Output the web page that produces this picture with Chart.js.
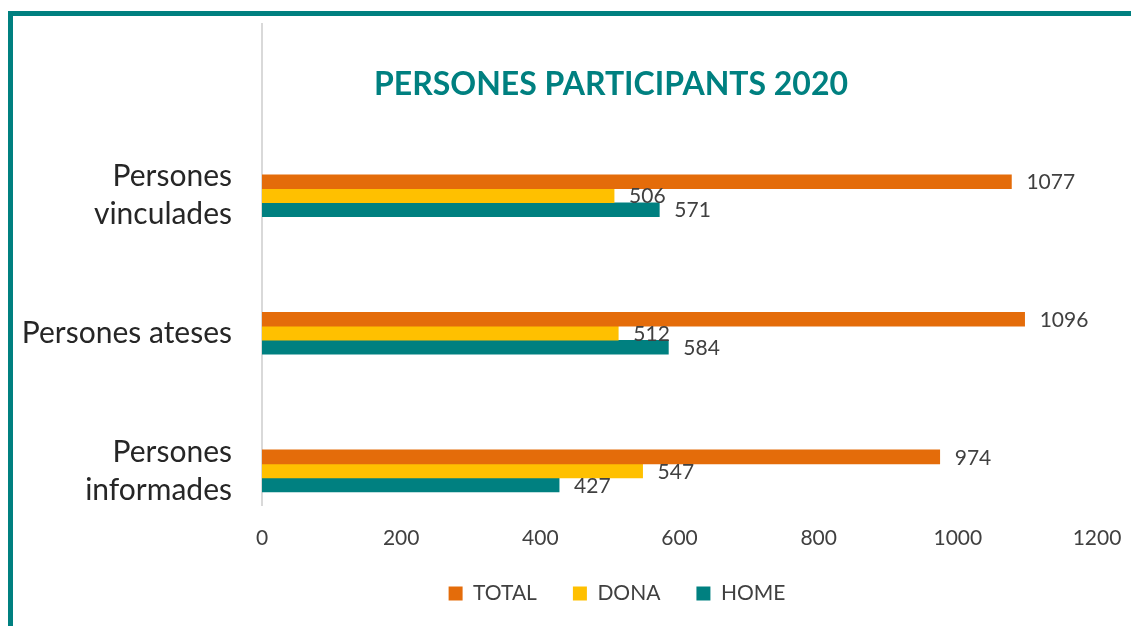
<!DOCTYPE html>
<html>
<head>
<meta charset="utf-8">
<script src="https://cdn.jsdelivr.net/npm/chart.js@4.4.1/dist/chart.umd.min.js"></script>
<style>
  html, body { margin: 0; padding: 0; background: #fff; }
  .frame {
    position: absolute; left: 8px; top: 11px; right: 0; bottom: 0;
    border-left: 5px solid #008080; border-top: 5px solid #008080;
  }
  .wrap { position: absolute; left: 13px; top: 16px; width: 1118px; height: 610px; }
</style>
</head>
<body>
<div class="frame"></div>
<div class="wrap"><canvas id="myChart"></canvas></div>
<script>
const titleText = 'PERSONES PARTICIPANTS 2020';
const categories = [['Persones', 'vinculades'], 'Persones ateses', ['Persones', 'informades']];
const seriesNames = ['TOTAL', 'DONA', 'HOME'];
const totalValues = [1077, 1096, 974];
const donaValues = [506, 512, 547];
const homeValues = [571, 584, 427];
const xTicks = [0, 200, 400, 600, 800, 1000, 1200];

const colors = ['#E46C0A', '#FFC000', '#008080'];
const font = 'Lato, "Open Sans", sans-serif';
const textColor = '#404040';

// first category goes at the top of a linear index axis
const toPoints = vals => vals.map((v, i) => ({ x: v, y: categories.length - 1 - i }));

const valueLabels = {
  id: 'valueLabels',
  afterDatasetsDraw(chart) {
    const c = chart.ctx;
    c.save();
    c.font = '21px ' + font;
    c.fillStyle = textColor;
    c.textAlign = 'left';
    c.textBaseline = 'middle';
    chart.data.datasets.forEach((ds, di) => {
      chart.getDatasetMeta(di).data.forEach((el, i) => {
        c.fillText(String(ds.data[i].x), el.x + 15, el.y + 1);
      });
    });
    c.restore();
  }
};

const chartTitle = {
  id: 'chartTitle',
  afterDraw(chart) {
    const c = chart.ctx;
    c.save();
    c.font = 'bold 32px ' + font;
    c.fillStyle = '#008080';
    c.textAlign = 'center';
    c.textBaseline = 'middle';
    c.fillText(titleText, 598, 69);
    c.restore();
  }
};

// nudge the legend so it sits under the plot like the original
const legendShift = {
  id: 'legendShift',
  afterLayout(chart) {
    chart.legend.left += 62;
    chart.legend.right += 62;
  }
};

const ctx = document.getElementById('myChart');

new Chart(ctx,
  {
    type: 'bar',
    data:
    {
      datasets:
      [
        { label: seriesNames[0], data: toPoints(totalValues), backgroundColor: colors[0] },
        { label: seriesNames[1], data: toPoints(donaValues), backgroundColor: colors[1] },
        { label: seriesNames[2], data: toPoints(homeValues), backgroundColor: colors[2] }
      ]
    },
    plugins: [valueLabels, chartTitle, legendShift],
    options:
    {
      indexAxis: 'y',
      responsive: true,
      maintainAspectRatio: false,
      animation: false,
      barThickness: 14,
      layout: { padding: { left: 0, right: 34, top: 8, bottom: 12 } },
      scales:
      {
        x:
        {
          min: 0,
          max: 1200,
          grid: { display: false, drawTicks: false },
          border: { display: false },
          afterBuildTicks: s => { s.ticks = xTicks.map(v => ({ value: v })); },
          afterFit: s => { s.height = 42; s.paddingLeft = 0; s.paddingRight = 0; },
          ticks: { padding: 21, color: textColor, font: { family: font, size: 21 }, callback: v => String(v) }
        },
        y:
        {
          type: 'linear',
          offset: false,
          min: -0.248,
          max: 3.248,
          grid: { display: false, drawTicks: false },
          border: { display: true, color: '#d9d9d9', width: 2 },
          afterBuildTicks: s => { s.ticks = categories.map((c, i) => ({ value: i })); },
          afterFit: s => { s.width = 249; s.paddingTop = 0; s.paddingBottom = 0; },
          ticks:
          {
            padding: 30,
            color: '#262626',
            font: { family: font, size: 30, lineHeight: 1.27 },
            callback: v => categories[categories.length - 1 - v]
          }
        }
      },
      plugins:
      {
        legend:
        {
          position: 'bottom',
          labels: { boxWidth: 14, boxHeight: 14, padding: 36, color: textColor, font: { family: font, size: 21 } }
        },
        tooltip: { enabled: true }
      }
    }
  }
  );
</script>
</body>
</html>
